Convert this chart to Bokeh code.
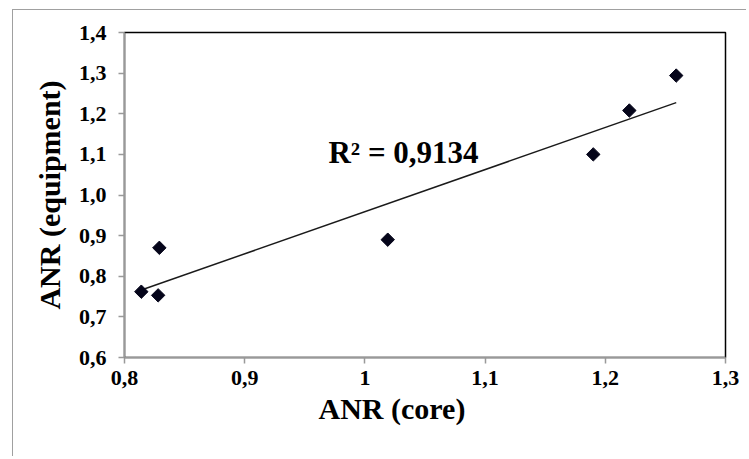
import numpy as np
from bokeh.plotting import figure
from bokeh.models import Range1d, FixedTicker, Label, Title
from bokeh.embed import file_html
from bokeh.resources import INLINE

# data
anr_core = [0.814, 0.828, 0.829, 1.019, 1.190, 1.220, 1.259]
anr_equipment = [0.762, 0.753, 0.870, 0.890, 1.100, 1.208, 1.294]
r2_text = "R² = 0,9134"

x_ticks = [0.8, 0.9, 1.0, 1.1, 1.2, 1.3]
x_labels = ["0,8", "0,9", "1", "1,1", "1,2", "1,3"]
y_ticks = [0.6, 0.7, 0.8, 0.9, 1.0, 1.1, 1.2, 1.3, 1.4]
y_labels = ["0,6", "0,7", "0,8", "0,9", "1,0", "1,1", "1,2", "1,3", "1,4"]

FONT = "Liberation Serif"

p = figure(width=734, height=447, output_backend="svg", toolbar_location=None,
           x_range=Range1d(0.8, 1.3), y_range=Range1d(0.6, 1.4),
           min_border_left=111, min_border_right=22, min_border_top=22, min_border_bottom=100)
p.styles = {"border-top": "1px solid #a0a0a0", "border-left": "1px solid #a0a0a0"}
p.margin = (9, 0, 0, 12)

p.xgrid.visible = False
p.ygrid.visible = False
p.outline_line_color = "black"
p.outline_line_width = 1.5

for ax, ticks, labels in ((p.xaxis[0], x_ticks, x_labels), (p.yaxis[0], y_ticks, y_labels)):
    ax.ticker = FixedTicker(ticks=ticks)
    ax.major_label_overrides = {t: l for t, l in zip(ticks, labels)}
    ax.axis_line_color = "#999999"
    ax.axis_line_width = 1.5
    ax.major_tick_line_color = "#999999"
    ax.major_tick_line_width = 1.5
    ax.major_tick_out = 6
    ax.major_tick_in = 0
    ax.minor_tick_line_color = None
    ax.major_label_text_font = FONT
    ax.major_label_text_font_style = "bold"
    ax.major_label_text_font_size = "22px"
    ax.major_label_text_color = "black"

p.xaxis.major_label_standoff = 7
p.yaxis.major_label_standoff = 12

p.yaxis.axis_label = "ANR (equipment)"
p.yaxis.axis_label_text_font = FONT
p.yaxis.axis_label_text_font_style = "bold"
p.yaxis.axis_label_text_font_size = "30px"
p.yaxis.axis_label_text_color = "black"
p.yaxis.axis_label_standoff = 10

# x axis title (offset left of centre as in the reference)
p.add_layout(Title(text="ANR (core)", align="left", offset=194, standoff=4,
                   text_font=FONT, text_font_style="bold", text_font_size="30px",
                   text_color="black"), "below")

# linear trend line
coef = np.polyfit(anr_core, anr_equipment, 1)
xs = np.array([min(anr_core), max(anr_core)])
p.line(xs, np.polyval(coef, xs), line_color="#1a1a1a", line_width=1.5)

p.scatter(anr_core, anr_equipment, marker="square", angle=np.pi / 4, size=9.5,
          fill_color="#05051a", line_color="#05051a")

p.add_layout(Label(x=0.9697, y=1.105, text=r2_text, text_font=FONT,
                   text_font_style="bold", text_font_size="31px", text_color="black",
                   text_align="left", text_baseline="alphabetic"))

open("out.html", "w").write(file_html(p, INLINE))
